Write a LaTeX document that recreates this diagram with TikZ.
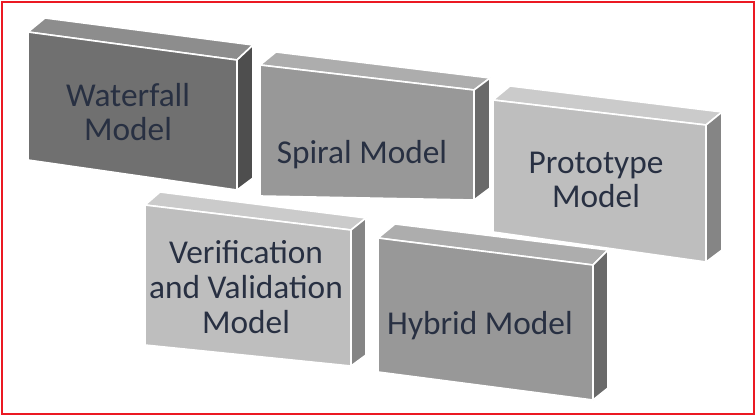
\documentclass[tikz,border=0pt]{standalone}
\usepackage{fontspec}
\setmainfont{Carlito}
\definecolor{frameRed}{RGB}{235,25,35}
\definecolor{txtBlue}{RGB}{40,48,66}
\definecolor{darkFace}{RGB}{112,112,112}
\definecolor{midFace}{RGB}{152,152,152}
\definecolor{lightFace}{RGB}{190,190,190}
\tikzset{
  face/.style={draw=white, line width=1.2pt, line join=round},
  boxtext/.style={text=txtBlue, font=\fontsize{25}{26}\selectfont, align=center}
}
\begin{document}
\begin{tikzpicture}[x=0.75pt,y=-0.75pt]
\useasboundingbox (0,0) rectangle (756,416);
\draw[frameRed, line width=2pt] (2,2) rectangle (754,414);

% waterfall
\fill[face, fill=darkFace!80] (28,32) -- (45,18) -- (253,45) -- (237,60) -- cycle;
\fill[face, fill=darkFace!70!black] (237,60) -- (253,45) -- (253,178) -- (237,190) -- cycle;
\fill[face, fill=darkFace] (28,32) -- (237,60) -- (237,190) -- (28,160) -- cycle;
\node[boxtext] (waterfall) at (128,112) {Waterfall\\Model};

% spiral
\fill[face, fill=midFace!80] (260,65) -- (276,52) -- (490,78) -- (474,90) -- cycle;
\fill[face, fill=midFace!70!black] (474,90) -- (490,78) -- (490,188) -- (474,200) -- cycle;
\fill[face, fill=midFace] (260,65) -- (474,90) -- (474,200) -- (260,196) -- cycle;
\node[boxtext] (spiral) at (362,155) {Spiral Model};

% prototype
\fill[face, fill=lightFace!80] (493,100) -- (510,86) -- (722,112) -- (706,125) -- cycle;
\fill[face, fill=lightFace!70!black] (706,125) -- (722,112) -- (722,250) -- (706,262) -- cycle;
\fill[face, fill=lightFace] (493,100) -- (706,125) -- (706,262) -- (493,232) -- cycle;
\node[boxtext] (prototype) at (596,180) {Prototype\\Model};

% verification
\fill[face, fill=lightFace!80] (145,205) -- (160,192) -- (366,218) -- (351,230) -- cycle;
\fill[face, fill=lightFace!70!black] (351,230) -- (366,218) -- (366,355) -- (351,366) -- cycle;
\fill[face, fill=lightFace] (145,205) -- (351,230) -- (351,366) -- (145,345) -- cycle;
\node[boxtext] (verification) at (246,287) {Verification\\and Validation\\Model};

% hybrid
\fill[face, fill=midFace!80] (378,238) -- (395,224) -- (608,250) -- (593,265) -- cycle;
\fill[face, fill=midFace!70!black] (593,265) -- (608,250) -- (608,388) -- (593,400) -- cycle;
\fill[face, fill=midFace] (378,238) -- (593,265) -- (593,400) -- (378,372) -- cycle;
\node[boxtext] (hybrid) at (480,326) {Hybrid Model};
\end{tikzpicture}
\end{document}
